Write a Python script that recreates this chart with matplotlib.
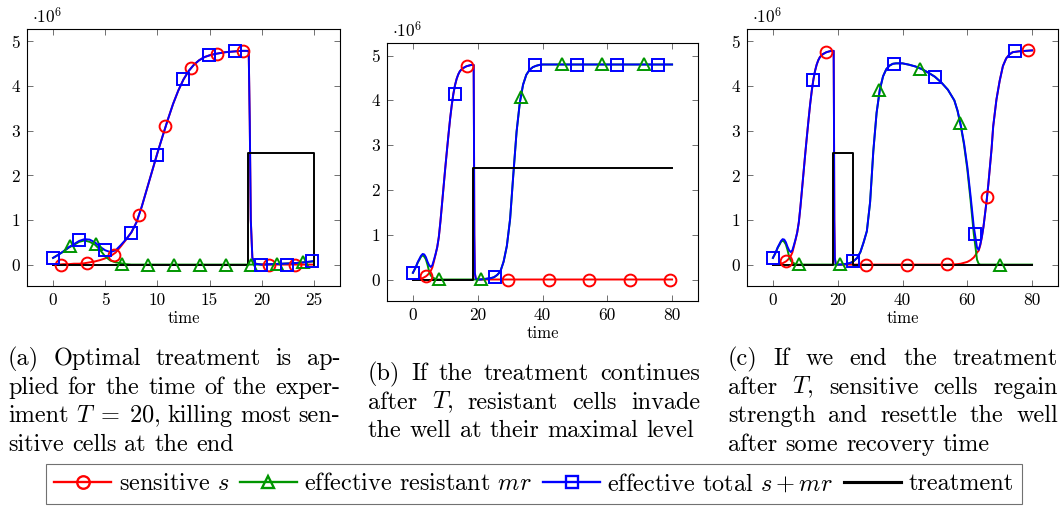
import matplotlib
matplotlib.use("Agg")
import matplotlib.pyplot as plt
from matplotlib.lines import Line2D
import numpy as np

plt.rcParams["font.family"] = "serif"
plt.rcParams["font.serif"] = ["cmr10", "DejaVu Serif"]
plt.rcParams["mathtext.fontset"] = "cm"
plt.rcParams["axes.unicode_minus"] = False
plt.rcParams["axes.formatter.use_mathtext"] = True

W, H = 1062, 507

# values in units of 1e6 cells
t_early = [0, 0.5, 1, 1.5, 2, 2.5, 3, 3.5, 4, 4.5, 5, 5.5, 6, 6.5, 7, 7.5, 8, 8.5,
           9, 9.5, 10, 10.5, 11, 11.5, 12, 12.5, 13, 13.5, 14, 14.5, 15, 15.5, 16,
           16.5, 17, 17.5, 18, 18.5, 18.75]
total_early = [0.15, 0.22, 0.30, 0.39, 0.46, 0.53, 0.57, 0.56, 0.50, 0.40, 0.32, 0.28,
               0.32, 0.44, 0.57, 0.72, 0.95, 1.30, 1.70, 2.10, 2.50, 2.88, 3.25, 3.60,
               3.90, 4.15, 4.34, 4.48, 4.58, 4.65, 4.69, 4.72, 4.74, 4.76, 4.77, 4.78,
               4.79, 4.79, 4.79]
sens_early = [0.0, 0.0, 0.01, 0.01, 0.02, 0.02, 0.03, 0.05, 0.07, 0.10, 0.14, 0.19,
              0.27, 0.41, 0.56, 0.72, 0.95, 1.30, 1.70, 2.10, 2.50, 2.88, 3.25, 3.60,
              3.90, 4.15, 4.34, 4.48, 4.58, 4.65, 4.69, 4.72, 4.74, 4.76, 4.77, 4.78,
              4.79, 4.79, 4.79]
res_early = [0.15, 0.22, 0.29, 0.38, 0.44, 0.51, 0.54, 0.51, 0.45, 0.33, 0.18, 0.09,
             0.05, 0.03, 0.01, 0, 0, 0, 0, 0, 0, 0, 0, 0, 0, 0, 0, 0, 0, 0, 0, 0, 0,
             0, 0, 0, 0, 0, 0]

# (a) treatment stops at the end of the experiment
t_late_a = [18.85, 18.95, 19.1, 19.4, 20, 21, 22, 23, 24, 25]
total_late_a = [3.2, 1.0, 0.15, 0.02, 0.0, 0.01, 0.02, 0.03, 0.05, 0.08]
sens_late_a = [3.2, 1.0, 0.15, 0.02, 0, 0, 0, 0, 0, 0]
res_late_a = [0, 0, 0, 0, 0.0, 0.01, 0.02, 0.03, 0.05, 0.07]
treat_t_a = [0, 18.7, 18.7, 25, 25]
treat_u_a = [0, 0, 2.5, 2.5, 0]

# (b) treatment continues
t_late_b = [18.85, 18.95, 19.1, 19.4, 20, 21, 22, 23, 24, 25, 26, 27, 28, 29, 30, 31,
            32, 33, 34, 35, 36, 37, 38, 39, 40, 50, 60, 70, 80]
total_late_b = [3.2, 1.0, 0.15, 0.02, 0.0, 0.0, 0.01, 0.02, 0.03, 0.05, 0.10, 0.18,
                0.40, 0.75, 1.35, 2.35, 3.30, 3.95, 4.35, 4.57, 4.68, 4.74, 4.77,
                4.79, 4.80, 4.80, 4.80, 4.80, 4.80]
sens_late_b = [3.2, 1.0, 0.15, 0.02, 0, 0, 0, 0, 0, 0, 0, 0, 0, 0, 0, 0, 0, 0, 0, 0,
               0, 0, 0, 0, 0, 0, 0, 0, 0]
res_late_b = [0, 0, 0, 0, 0.0, 0.0, 0.01, 0.02, 0.03, 0.05, 0.10, 0.18, 0.40, 0.75,
              1.35, 2.35, 3.30, 3.95, 4.35, 4.57, 4.68, 4.74, 4.77, 4.79, 4.80, 4.80,
              4.80, 4.80, 4.80]
treat_t_b = [0, 18.7, 18.7, 80]
treat_u_b = [0, 0, 2.5, 2.5]

# (c) treatment ends after T
t_late_c = [18.85, 18.95, 19.1, 19.4, 20, 21, 22, 23, 24, 24.8, 26, 27, 28, 29, 30, 31,
            32, 33, 34, 35, 36, 37, 38, 40, 42, 44, 46, 48, 50, 52, 54, 56, 57, 58, 59,
            60, 61, 62, 62.5, 63, 63.5, 64, 64.5, 65, 65.5, 66, 66.5, 67, 67.5, 68, 69,
            70, 71, 72, 73, 74, 76, 78, 80]
total_late_c = [3.2, 1.0, 0.15, 0.02, 0.0, 0.0, 0.01, 0.02, 0.04, 0.07, 0.15, 0.28,
                0.50, 0.75, 1.40, 2.55, 3.40, 3.92, 4.22, 4.38, 4.46, 4.50, 4.51, 4.51,
                4.48, 4.44, 4.38, 4.30, 4.21, 4.08, 3.92, 3.68, 3.45, 3.12, 2.72, 2.20,
                1.55, 0.85, 0.62, 0.38, 0.33, 0.45, 0.62, 0.85, 1.15, 1.45, 1.80, 2.20,
                2.60, 3.10, 3.70, 4.12, 4.45, 4.62, 4.71, 4.76, 4.78, 4.79, 4.80]
sens_late_c = [3.2, 1.0, 0.15, 0.02, 0, 0, 0, 0, 0, 0, 0, 0, 0, 0, 0, 0, 0, 0, 0, 0, 0,
               0, 0, 0, 0, 0, 0, 0, 0, 0, 0, 0.005, 0.01, 0.02, 0.04, 0.06, 0.10, 0.16,
               0.21, 0.27, 0.31, 0.43, 0.62, 0.85, 1.15, 1.45, 1.80, 2.20, 2.60, 3.10,
               3.70, 4.12, 4.45, 4.62, 4.71, 4.76, 4.78, 4.79, 4.80]
res_late_c = [0, 0, 0, 0, 0.0, 0.0, 0.01, 0.02, 0.04, 0.07, 0.15, 0.28, 0.50, 0.75,
              1.40, 2.55, 3.40, 3.92, 4.22, 4.38, 4.46, 4.50, 4.51, 4.51, 4.48, 4.44,
              4.38, 4.30, 4.21, 4.08, 3.92, 3.68, 3.44, 3.10, 2.68, 2.14, 1.45, 0.69,
              0.41, 0.11, 0.02, 0.0, 0, 0, 0, 0, 0, 0, 0, 0, 0, 0, 0, 0, 0, 0, 0, 0, 0]
treat_t_c = [0, 18.6, 18.6, 24.8, 24.8, 80]
treat_u_c = [0, 0, 2.5, 2.5, 0, 0]

# marker samples
sq_t_a = [0, 2.46, 4.97, 7.46, 9.98, 12.44, 14.93, 17.43, 19.9, 22.4, 24.85]
sq_y_a = [0.156, 0.56, 0.33, 0.71, 2.46, 4.15, 4.69, 4.78, -0.02, 0.0, 0.08]
ci_t_a = [0.77, 3.26, 5.8, 8.25, 10.73, 13.2, 15.7, 18.2, 20.7, 23.15]
ci_y_a = [0.0, 0.04, 0.22, 1.12, 3.1, 4.41, 4.73, 4.79, 0.0, 0.0]
tr_t_a = [1.66, 4.13, 6.6, 9.1, 11.57, 14.05, 16.55, 19.0, 21.5, 24.0]
tr_y_a = [0.41, 0.46, 0.01, 0.0, 0.0, 0.0, 0.0, 0.0, 0.02, 0.05]

sq_t_b = [0, 12.85, 25.3, 37.8, 50.5, 62.9, 75.5]
sq_y_b = [0.15, 4.15, 0.05, 4.78, 4.8, 4.8, 4.8]
ci_t_b = [4.1, 16.6, 29.2, 41.9, 54.3, 67.0, 79.5]
ci_y_b = [0.07, 4.76, 0.0, 0.0, 0.0, 0.0, 0.0]
tr_t_b = [8.2, 20.9, 33.4, 46.0, 58.5, 71.2]
tr_y_b = [0.02, 0.02, 4.07, 4.82, 4.82, 4.82]

sq_t_c = [0, 12.5, 24.8, 37.4, 49.9, 62.3, 74.7]
sq_y_c = [0.15, 4.14, 0.07, 4.5, 4.21, 0.68, 4.78]
ci_t_c = [4.0, 16.4, 28.8, 41.3, 53.7, 66.2, 78.7]
ci_y_c = [0.07, 4.76, 0.0, 0.0, 0.01, 1.52, 4.8]
tr_t_c = [8.1, 20.7, 32.9, 45.4, 57.8, 70.2]
tr_y_c = [0.01, 0.01, 3.92, 4.38, 3.17, 0.0]

RED, GREEN, BLUE = "#ff0000", "#009600", "#0000ff"
LW = 1.4
MS = {"o": 8.5, "^": 8.0, "s": 8.3}
TICK_FS = 12.5

fig = plt.figure(figsize=(W / 100, H / 100), dpi=100)


def px_axes(left, top, right, bottom):
    return fig.add_axes([left / W, 1 - bottom / H, (right - left) / W, (bottom - top) / H])


def draw_panel(ax, t_late, sens_late, res_late, total_late, treat_t, treat_u,
               ci, tr, sq, xmax, xticks):
    t = np.concatenate([t_early, t_late])
    ax.plot(t, np.concatenate([sens_early, sens_late]), color=RED, lw=LW, zorder=2)
    ax.plot(t, np.concatenate([res_early, res_late]), color=GREEN, lw=LW, zorder=2.1)
    ax.plot(t, np.concatenate([total_early, total_late]), color=BLUE, lw=LW, zorder=2.2)
    ax.plot(treat_t, treat_u, color="black", lw=LW, zorder=2.3)
    ax.plot(ci[0], ci[1], ls="none", marker="o", ms=MS["o"], mfc="none", mec=RED, mew=LW, zorder=3)
    ax.plot(tr[0], tr[1], ls="none", marker="^", ms=MS["^"], mfc="none", mec=GREEN, mew=LW, zorder=3)
    ax.plot(sq[0], sq[1], ls="none", marker="s", ms=MS["s"], mfc="none", mec=BLUE, mew=LW, zorder=3)

    ax.set_xlim(-0.1 * xmax, 1.1 * xmax)
    ax.set_ylim(-0.48, 5.28)
    ax.set_xticks(xticks)
    ax.set_yticks([0, 1, 2, 3, 4, 5])
    ax.set_xticklabels([str(v) for v in xticks])
    ax.set_yticklabels([str(v) for v in range(6)])
    ax.tick_params(direction="in", top=True, right=True, length=4, width=0.6,
                   color="0.35", labelsize=TICK_FS, pad=5)
    for sp in ax.spines.values():
        sp.set_linewidth(0.8)
    ax.set_xlabel("time", fontsize=12, labelpad=2)
    ax.text(0.015, 1.012, r"$\cdot 10^{6}$", transform=ax.transAxes, fontsize=TICK_FS,
            ha="left", va="bottom")


ax_a = px_axes(27, 29, 340, 286)
draw_panel(ax_a, t_late_a, sens_late_a, res_late_a, total_late_a, treat_t_a, treat_u_a,
           (ci_t_a, ci_y_a), (tr_t_a, tr_y_a), (sq_t_a, sq_y_a), 25, [0, 5, 10, 15, 20, 25])

ax_b = px_axes(387, 43, 698, 301)
draw_panel(ax_b, t_late_b, sens_late_b, res_late_b, total_late_b, treat_t_b, treat_u_b,
           (ci_t_b, ci_y_b), (tr_t_b, tr_y_b), (sq_t_b, sq_y_b), 80, [0, 20, 40, 60, 80])

ax_c = px_axes(747, 29, 1058, 286)
draw_panel(ax_c, t_late_c, sens_late_c, res_late_c, total_late_c, treat_t_c, treat_u_c,
           (ci_t_c, ci_y_c), (tr_t_c, tr_y_c), (sq_t_c, sq_y_c), 80, [0, 20, 40, 60, 80])

# captions, justified like the LaTeX subcaptions
CAP_FS = 17.5
caption_a = [["(a)", "Optimal", "treatment", "is", "ap-"],
             ["plied", "for", "the", "time", "of", "the", "exper-"],
             ["iment", r"$T\;=\;20$,", "killing", "most", "sen-"],
             ["sitive", "cells", "at", "the", "end"]]
caption_b = [["(b)", "If", "the", "treatment", "continues"],
             ["after", r"$T$,", "resistant", "cells", "invade"],
             ["the", "well", "at", "their", "maximal", "level"]]
caption_c = [["(c)", "If", "we", "end", "the", "treatment"],
             ["after", r"$T$,", "sensitive", "cells", "regain"],
             ["strength", "and", "resettle", "the", "well"],
             ["after", "some", "recovery", "time"]]

renderer = fig.canvas.get_renderer()


def caption(lines, x0, x1, y0, dy):
    space = CAP_FS * 0.333 * 100 / 72
    for i, words in enumerate(lines):
        y = 1 - (y0 + i * dy) / H
        texts = [fig.text(0, y, w, fontsize=CAP_FS, va="baseline", ha="left") for w in words]
        widths = [tx.get_window_extent(renderer).width for tx in texts]
        if i == len(lines) - 1:
            gap = space
        else:
            gap = (x1 - x0 - sum(widths)) / (len(words) - 1)
        x = x0
        for tx, w in zip(texts, widths):
            tx.set_x(x / W)
            x += w + gap


caption(caption_a, 8, 340, 365, 28.7)
caption(caption_b, 368, 700, 380, 28.7)
caption(caption_c, 728, 1058, 365, 28.7)

handles = [
    Line2D([], [], color=RED, lw=LW * 1.2, marker="o", ms=MS["o"] + 0.5, mfc="none", mew=LW * 1.2),
    Line2D([], [], color=GREEN, lw=LW * 1.2, marker="^", ms=MS["^"] + 0.5, mfc="none", mew=LW * 1.2),
    Line2D([], [], color=BLUE, lw=LW * 1.2, marker="s", ms=MS["s"] + 0.5, mfc="none", mew=LW * 1.2),
    Line2D([], [], color="black", lw=LW * 1.6),
]
labels = ["sensitive $s$", "effective resistant $mr$", "effective total $s+mr$", "treatment"]
leg = fig.legend(handles, labels, loc="center", bbox_to_anchor=(534 / W, 1 - 484 / H),
                 ncol=4, fontsize=CAP_FS, frameon=True, fancybox=False, edgecolor="0.3",
                 handlelength=2.35, handletextpad=0.3, columnspacing=0.45, borderpad=0.35,
                 numpoints=1)
leg.get_frame().set_linewidth(0.8)

fig.savefig("out.png", dpi=100)
